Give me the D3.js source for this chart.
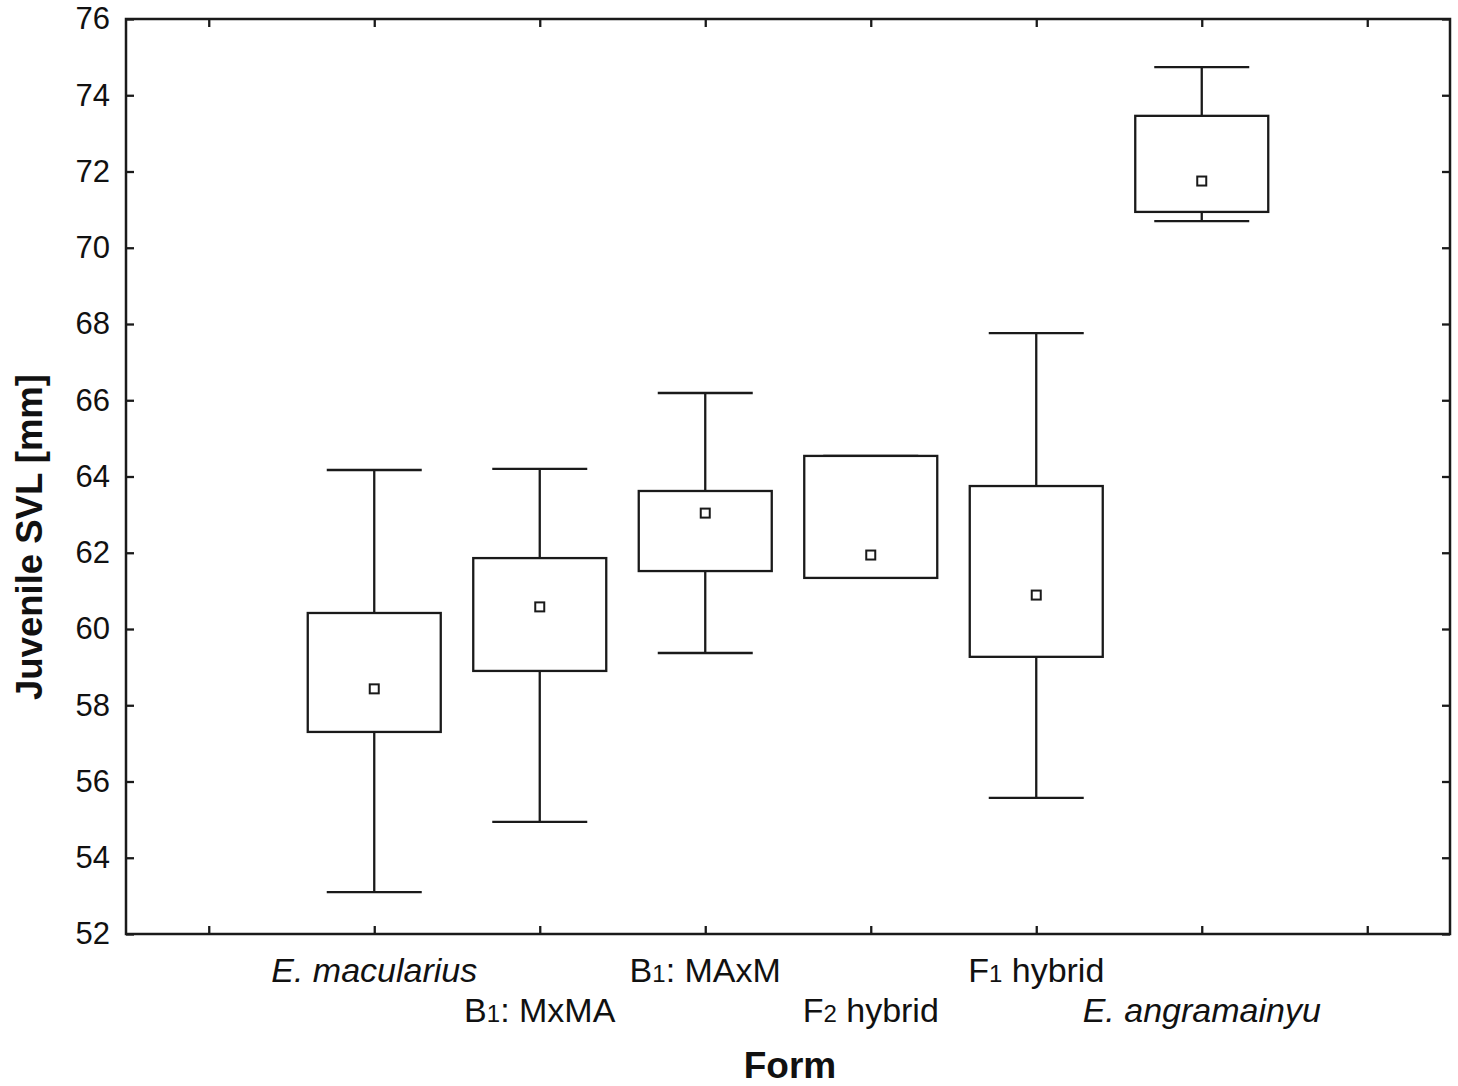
<!DOCTYPE html>
<html>
<head>
<meta charset="utf-8">
<script src="https://cdn.jsdelivr.net/npm/d3@7"></script>
<style>
  html, body { margin: 0; padding: 0; background: #fff; }
  svg { display: block; font-family: Arial, "Liberation Sans", sans-serif; }
</style>
</head>
<body>
<svg id="chart" width="1458" height="1086"></svg>
<script>
// Juvenile snout-vent length by form: box = spread, whiskers = range, square = mean
const categories = ["E. macularius", "B1: MxMA", "B1: MAxM", "F2 hybrid", "F1 hybrid", "E. angramainyu"];
const whiskerHigh = [64.17, 64.20, 66.19, 64.54, 67.76, 74.74];
const boxHigh     = [60.42, 61.86, 63.62, 64.54, 63.75, 73.46];
const means       = [58.43, 60.58, 63.04, 61.94, 60.89, 71.75];
const boxLow      = [57.30, 58.90, 61.52, 61.34, 59.27, 70.94];
const whiskerLow  = [53.10, 54.94, 59.37, 61.34, 55.57, 70.70];
const yTicks = [52, 54, 56, 58, 60, 62, 64, 66, 68, 70, 72, 74, 76];
const xAxisTitle = "Form";
const yAxisTitle = "Juvenile SVL [mm]";

const svg = d3.select("#chart");
const plotLeft = 126, plotRight = 1450, plotTop = 19, plotBottom = 934;

// x: eight slots, the outer two left empty; categories sit in slots 1..6
const x = d3.scaleLinear().domain([0, 8]).range([plotLeft, plotRight]);
const xPos = i => x(i + 1.5);
const xTickVals = d3.range(8).map(k => k + 0.5);
const y = d3.scaleLinear().domain([52, 76]).range([plotBottom, plotTop]);

const stroke = "#1a1a1a";
const g = svg.append("g");

// Frame axes with inward ticks on all four sides
const axisLeft = d3.axisLeft(y).tickValues(yTicks).tickSize(-8).tickPadding(16).tickFormat(d3.format("d"));
const axisRight = d3.axisRight(y).tickValues(yTicks).tickSize(-8).tickFormat("");
const axisBottom = d3.axisBottom(x).tickValues(xTickVals).tickSize(-8).tickFormat("");
const axisTop = d3.axisTop(x).tickValues(xTickVals).tickSize(-8).tickFormat("");

function styleAxis(sel) {
  sel.select(".domain").remove();
  sel.selectAll(".tick line").attr("stroke", stroke).attr("stroke-width", 2.3);
  sel.selectAll(".tick text").attr("fill", "#111").style("font-size", "31px");
}
g.append("g").attr("transform", `translate(${plotLeft},0)`).call(axisLeft).call(styleAxis);
g.append("g").attr("transform", `translate(${plotRight},0)`).call(axisRight).call(styleAxis);
g.append("g").attr("transform", `translate(0,${plotBottom})`).call(axisBottom).call(styleAxis);
g.append("g").attr("transform", `translate(0,${plotTop})`).call(axisTop).call(styleAxis);
g.append("rect").attr("x", plotLeft).attr("y", plotTop)
  .attr("width", plotRight - plotLeft).attr("height", plotBottom - plotTop)
  .attr("fill", "none").attr("stroke", stroke).attr("stroke-width", 2.5);

// Boxes
const boxW = 133, capW = 95, meanS = 9;
const data = categories.map((c, i) => ({
  c, i, wh: whiskerHigh[i], bh: boxHigh[i], m: means[i], bl: boxLow[i], wl: whiskerLow[i]
}));
const box = g.append("g").selectAll("g").data(data).join("g")
  .attr("fill", "none").attr("stroke", stroke).attr("stroke-width", 2.3);

box.append("line").attr("x1", d => xPos(d.i)).attr("x2", d => xPos(d.i))
  .attr("y1", d => y(d.wh)).attr("y2", d => y(d.bh));
box.append("line").attr("x1", d => xPos(d.i)).attr("x2", d => xPos(d.i))
  .attr("y1", d => y(d.bl)).attr("y2", d => y(d.wl));
box.append("line").attr("x1", d => xPos(d.i) - capW / 2).attr("x2", d => xPos(d.i) + capW / 2)
  .attr("y1", d => y(d.wh)).attr("y2", d => y(d.wh));
box.append("line").attr("x1", d => xPos(d.i) - capW / 2).attr("x2", d => xPos(d.i) + capW / 2)
  .attr("y1", d => y(d.wl)).attr("y2", d => y(d.wl));
box.append("rect").attr("x", d => xPos(d.i) - boxW / 2).attr("width", boxW)
  .attr("y", d => y(d.bh)).attr("height", d => y(d.bl) - y(d.bh)).attr("fill", "#fff");
box.append("rect").attr("x", d => xPos(d.i) - meanS / 2).attr("width", meanS)
  .attr("y", d => y(d.m) - meanS / 2).attr("height", meanS).attr("fill", "#fff").attr("stroke-width", 2);

// Category labels, staggered on two rows; species names italic, generation digits subscript
const labels = g.append("g").selectAll("text").data(data).join("text")
  .attr("x", d => xPos(d.i))
  .attr("y", d => d.i % 2 === 0 ? 982 : 1022)
  .attr("text-anchor", "middle")
  .attr("fill", "#111")
  .style("font-size", "34px")
  .style("font-style", d => d.c.startsWith("E.") ? "italic" : "normal");
labels.each(function(d) {
  const t = d3.select(this);
  const m = d.c.match(/^([BF])(\d)(.*)$/);
  if (m) {
    t.append("tspan").text(m[1]);
    t.append("tspan").text(m[2]).style("font-size", "24px");
    t.append("tspan").text(m[3]);
  } else {
    t.text(d.c);
  }
});

// Axis titles
svg.append("text").attr("x", 790).attr("y", 1078).attr("text-anchor", "middle")
  .attr("fill", "#111").style("font-size", "37px").style("font-weight", "bold").text(xAxisTitle);
svg.append("text").attr("transform", "translate(42,537) rotate(-90)")
  .attr("text-anchor", "middle").attr("fill", "#111")
  .attr("textLength", 326).attr("lengthAdjust", "spacingAndGlyphs")
  .style("font-size", "36px").style("font-weight", "bold").text(yAxisTitle);
</script>
</body>
</html>
